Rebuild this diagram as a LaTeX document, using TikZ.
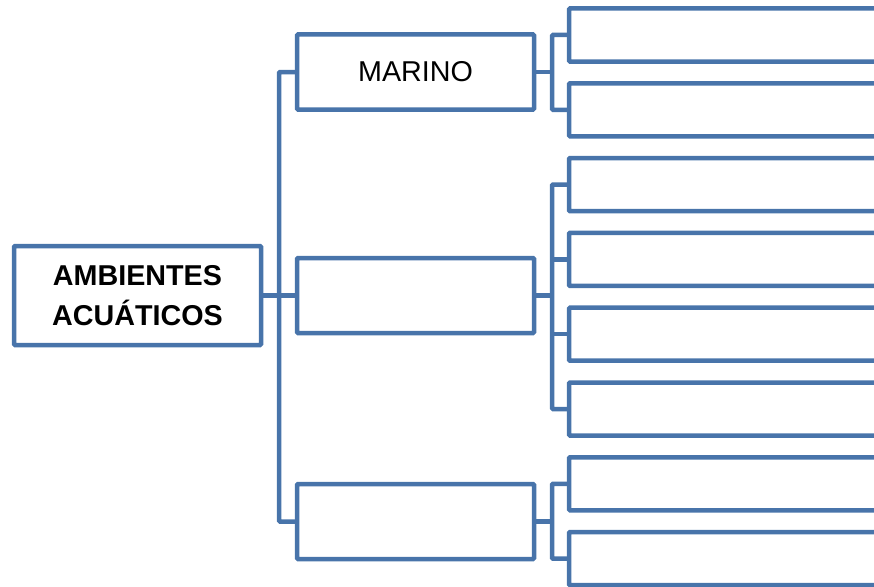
\documentclass[tikz,border=0pt]{standalone}
\usepackage{fontspec}
\setmainfont{Liberation Sans}
\definecolor{boxblue}{RGB}{72,116,170}

\begin{document}
\begin{tikzpicture}[x=1pt,y=-1pt,
  box/.style={rectangle,draw=boxblue,line width=4.5pt,rounded corners=1pt,fill=white,
    minimum width=237pt,minimum height=75pt,inner sep=0pt},
  leaf/.style={rectangle,draw=boxblue,line width=4.5pt,rounded corners=1pt,
    minimum width=500pt,minimum height=53pt,anchor=west},
  link/.style={draw=boxblue,line width=4.5pt,rounded corners=1pt}]

\useasboundingbox (0,0) rectangle (874,586);
\clip (0,0) rectangle (874,586);

\node[box,minimum width=247pt,minimum height=99pt,align=center,
  font=\bfseries\fontsize{28.7}{40}\selectfont] (root) at (137.5,295.5) {AMBIENTES\\ACUÁTICOS};

\node[box,font=\fontsize{28.7}{34}\selectfont] (marino) at (415.5,72) {MARINO};
\node[box] (mid) at (415.5,295.5) {};
\node[box] (low) at (415.5,521.5) {};

\node[leaf] (one) at (566.75,35) {};
\node[leaf] (two) at (566.75,109.8) {};
\node[leaf] (three) at (566.75,184.6) {};
\node[leaf] (four) at (566.75,259.4) {};
\node[leaf] (five) at (566.75,334.2) {};
\node[leaf] (six) at (566.75,409) {};
\node[leaf] (seven) at (566.75,483.8) {};
\node[leaf] (eight) at (566.75,558.6) {};

\coordinate (trunk) at (279,295.5);
\coordinate (forkA) at (552,72);
\coordinate (forkB) at (552,295.5);
\coordinate (forkC) at (552,521.5);

\draw[link] (root.east) -- (mid.west);
\draw[link] (marino.west) -| (trunk) |- (low.west);

\draw[link] (marino.east) -- (forkA);
\draw[link] (one.west) -| (forkA) |- (two.west);

\draw[link] (mid.east) -- (forkB);
\draw[link] (three.west) -| (forkB) |- (six.west);
\draw[link] (four.west) -- (four.west -| forkB);
\draw[link] (five.west) -- (five.west -| forkB);

\draw[link] (low.east) -- (forkC);
\draw[link] (seven.west) -| (forkC) |- (eight.west);
\end{tikzpicture}
\end{document}
